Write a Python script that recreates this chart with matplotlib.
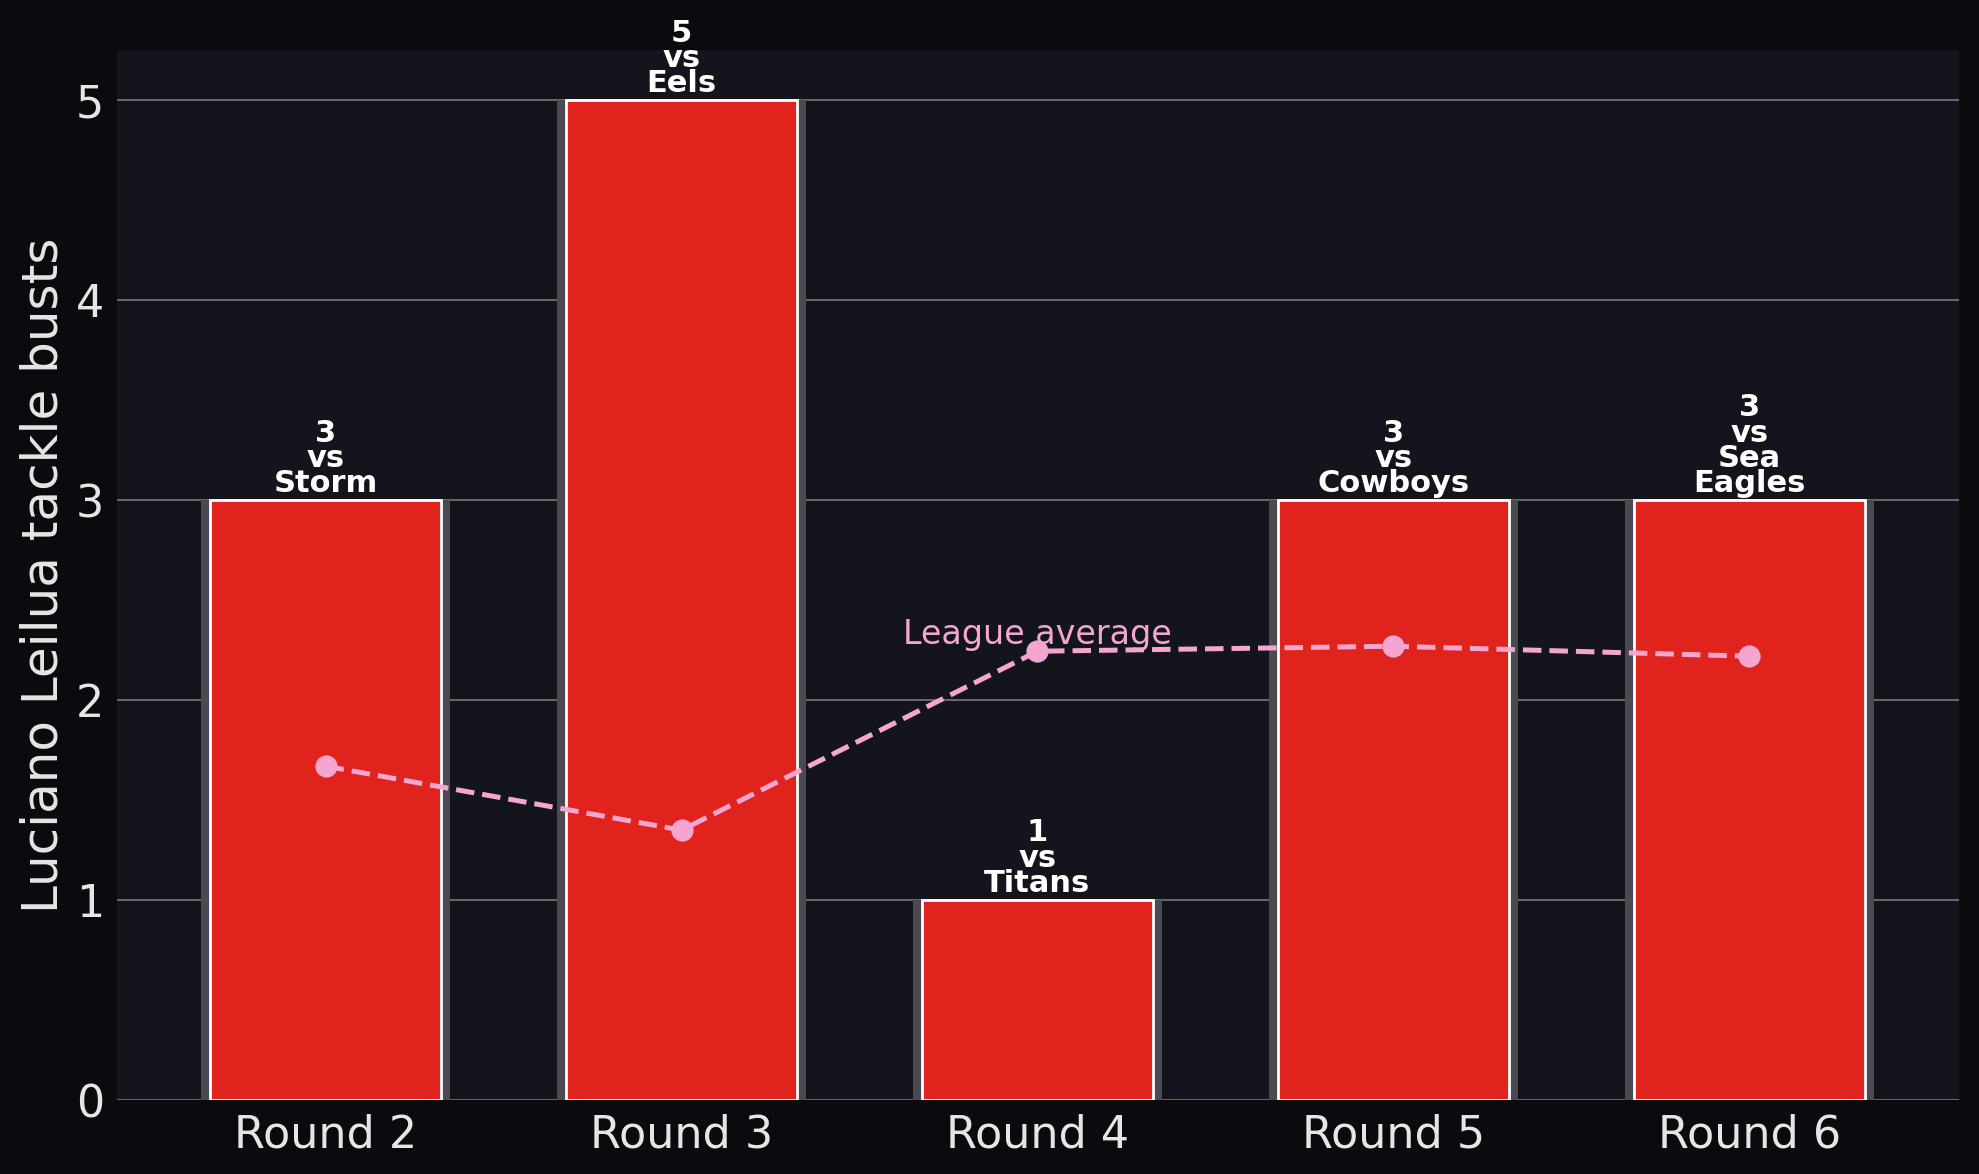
import matplotlib
matplotlib.use("Agg")
import matplotlib.pyplot as plt
import numpy as np

# chart data
rounds = ["Round 2", "Round 3", "Round 4", "Round 5", "Round 6"]
opponents = ["Storm", "Eels", "Titans", "Cowboys", "Sea\nEagles"]
tackle_busts = [3, 5, 1, 3, 3]
league_avg = [1.67, 1.35, 2.245, 2.27, 2.22]

fig_bg = "#0b0b0f"
ax_bg = "#13141c"
bar_red = "#e0231c"
shadow = "#4a4a50"
pink = "#f4a6d0"
text_col = "#e6e6e6"

fig = plt.figure(figsize=(19.79 / 2, 11.74 / 2), dpi=200, facecolor=fig_bg)
ax = fig.add_axes([0.059, 0.063, 0.931, 0.894])
ax.set_facecolor(ax_bg)

x = np.arange(len(rounds))

# grey backing bars, then red bars on top
ax.bar(x, tackle_busts, width=0.70, color=shadow, zorder=2)
ax.bar(x, tackle_busts, width=0.65, color=bar_red, edgecolor="white",
       linewidth=1.0, zorder=3)

for xi, val, opp in zip(x, tackle_busts, opponents):
    ax.text(xi, val + 0.01, f"{val}\nvs\n{opp}", ha="center", va="bottom",
            color="white", fontsize=11, fontweight="bold", linespacing=0.84,
            zorder=5)

ax.plot(x, league_avg, linestyle="--", color=pink, linewidth=1.8,
        marker="o", markersize=7, zorder=4)
ax.text(x[2], league_avg[2], "League average", ha="center",
        va="bottom", color=pink, fontsize=12, zorder=5)

ax.set_xlim(-0.587, 4.59)
ax.set_ylim(0, 5.25)
ax.set_xticks(x)
ax.set_xticklabels(rounds)
ax.set_yticks([0, 1, 2, 3, 4, 5])
ax.tick_params(axis="both", length=0, colors=text_col, labelsize=16)
ax.tick_params(axis="y", pad=4.5)
ax.tick_params(axis="x", pad=5)
ax.set_ylabel("Luciano Leilua tackle busts", color=text_col, fontsize=18,
              labelpad=3)

ax.yaxis.grid(True, color="#6a6a6a", linewidth=0.7, zorder=1)
ax.set_axisbelow(True)
for s in ax.spines.values():
    s.set_visible(False)

fig.savefig("out.png", dpi=200, facecolor=fig_bg)
